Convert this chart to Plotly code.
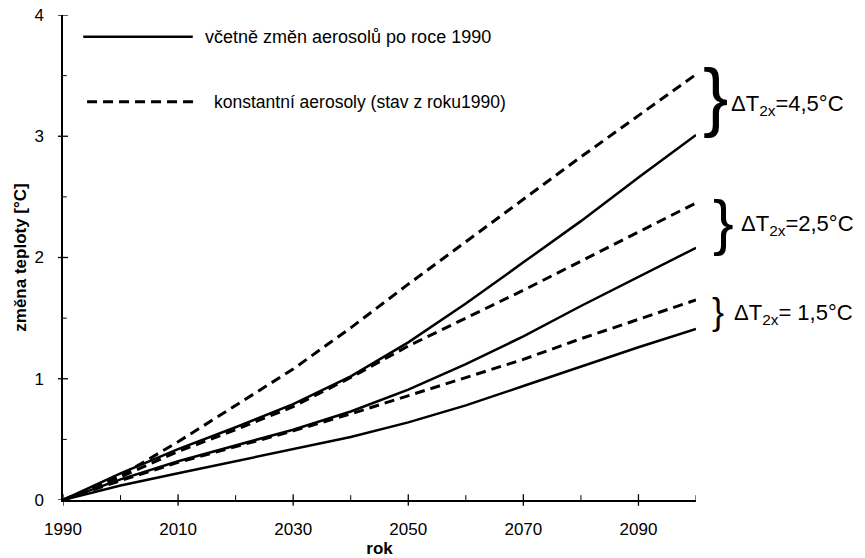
import plotly.graph_objects as go

# Years of the projection
years = [1990, 2000, 2010, 2020, 2030, 2040, 2050, 2060, 2070, 2080, 2090, 2100]

# Warming [°C] including aerosol changes after 1990 (solid lines)
incl_45 = [0, 0.22, 0.42, 0.60, 0.79, 1.02, 1.30, 1.62, 1.96, 2.30, 2.66, 3.01]
incl_25 = [0, 0.17, 0.32, 0.45, 0.58, 0.73, 0.91, 1.12, 1.35, 1.60, 1.84, 2.08]
incl_15 = [0, 0.12, 0.22, 0.32, 0.42, 0.52, 0.64, 0.78, 0.94, 1.10, 1.26, 1.41]

# Warming [°C] with aerosols held at the 1990 level (dashed lines)
const_45 = [0, 0.20, 0.48, 0.78, 1.08, 1.42, 1.78, 2.13, 2.48, 2.83, 3.17, 3.51]
const_25 = [0, 0.19, 0.40, 0.58, 0.77, 1.01, 1.27, 1.50, 1.73, 1.97, 2.21, 2.45]
const_15 = [0, 0.16, 0.31, 0.44, 0.57, 0.71, 0.86, 1.01, 1.16, 1.33, 1.49, 1.65]

# Climate sensitivity labels (one per pair of curves)
sens_labels = ["ΔT<sub>2x</sub>=4,5°C", "ΔT<sub>2x</sub>=2,5°C", "ΔT<sub>2x</sub>= 1,5°C"]
brace_sizes = [76, 62, 36]
brace_yshift = [9, 4, 3]
brace_shift = [19, 27, 22]
label_shift = [33, 43, 36]

x_ticks = [1990, 2010, 2030, 2050, 2070, 2090]
x_minor = [2000, 2020, 2040, 2060, 2080, 2100]
y_ticks = [0, 1, 2, 3, 4]
y_minor = [0.5, 1.5, 2.5, 3.5]

legend_solid = "včetně změn aerosolů po roce 1990"
legend_dash = "konstantní aerosoly (stav z roku1990)"

FONT = "Liberation Sans, Arial, sans-serif"
DASH = "10px,6px"

fig = go.Figure()
for vals in (incl_45, incl_25, incl_15):
    fig.add_trace(go.Scatter(x=years, y=vals, mode="lines",
                             line=dict(color="black", width=2.5),
                             showlegend=False, hoverinfo="skip"))
for vals in (const_45, const_25, const_15):
    fig.add_trace(go.Scatter(x=years, y=vals, mode="lines",
                             line=dict(color="black", width=3, dash=DASH),
                             showlegend=False, hoverinfo="skip"))

# Braces and sensitivity labels at the end of each pair
pairs = [(const_45, incl_45), (const_25, incl_25), (const_15, incl_15)]
for i, (hi, lo) in enumerate(pairs):
    mid = (hi[-1] + lo[-1]) / 2
    fig.add_annotation(x=years[-1], y=mid, xref="x", yref="y", text="}",
                       showarrow=False, xanchor="center", yanchor="middle",
                       xshift=brace_shift[i], yshift=brace_yshift[i],
                       font=dict(family=FONT, size=brace_sizes[i], color="black"))
    fig.add_annotation(x=years[-1], y=mid, xref="x", yref="y", text=sens_labels[i],
                       showarrow=False, xanchor="left", yanchor="middle",
                       xshift=label_shift[i],
                       font=dict(family=FONT, size=22, color="black"))

# Crossing tick marks on both axes
for v in x_ticks:
    fig.add_shape(type="line", xref="x", yref="paper", x0=v, x1=v, y0=-0.012, y1=0.012,
                  line=dict(color="black", width=1.3))
for v in x_minor:
    fig.add_shape(type="line", xref="x", yref="paper", x0=v, x1=v, y0=0, y1=0.01,
                  line=dict(color="black", width=1))
for v in y_ticks:
    fig.add_shape(type="line", xref="paper", yref="y", x0=-0.008, x1=0.008, y0=v, y1=v,
                  line=dict(color="black", width=1.3))
for v in y_minor:
    fig.add_shape(type="line", xref="paper", yref="y", x0=0, x1=0.006, y0=v, y1=v,
                  line=dict(color="black", width=1))

# Legend drawn as line samples with text
fig.add_shape(type="line", xref="paper", yref="paper", x0=0.032, x1=0.205, y0=0.955, y1=0.955,
              line=dict(color="black", width=2.5))
fig.add_annotation(x=0.221, y=0.955, xref="paper", yref="paper", text=legend_solid,
                   showarrow=False, xanchor="left", yanchor="middle",
                   font=dict(family=FONT, size=18, color="black"))
fig.add_shape(type="line", xref="paper", yref="paper", x0=0.038, x1=0.213, y0=0.821, y1=0.821,
              line=dict(color="black", width=3, dash=DASH))
fig.add_annotation(x=0.235, y=0.821, xref="paper", yref="paper", text=legend_dash,
                   showarrow=False, xanchor="left", yanchor="middle",
                   font=dict(family=FONT, size=17.5, color="black"))

fig.update_layout(
    width=865, height=558,
    margin=dict(l=63, r=169, t=15, b=58, autoexpand=False),
    paper_bgcolor="white", plot_bgcolor="white",
    font=dict(family=FONT, size=17, color="black"),
    showlegend=False,
    xaxis=dict(range=[1990, 2100], tickvals=x_ticks, ticktext=[str(t) for t in x_ticks],
               showgrid=False, zeroline=False, showline=True, linecolor="black", linewidth=1.5,
               ticks="", ticklabelstandoff=13, automargin=False,
               title=dict(text="<b>rok</b>", font=dict(size=17), standoff=10)),
    yaxis=dict(range=[0, 4], tickvals=y_ticks, ticktext=[str(t) for t in y_ticks],
               showgrid=False, zeroline=False, showline=True, linecolor="black", linewidth=1.5,
               ticks="", ticklabelstandoff=14, automargin=False,
               title=dict(text="<b>změna teploty [°C]</b>", font=dict(size=17), standoff=3)),
)

fig.write_html("out.html")
